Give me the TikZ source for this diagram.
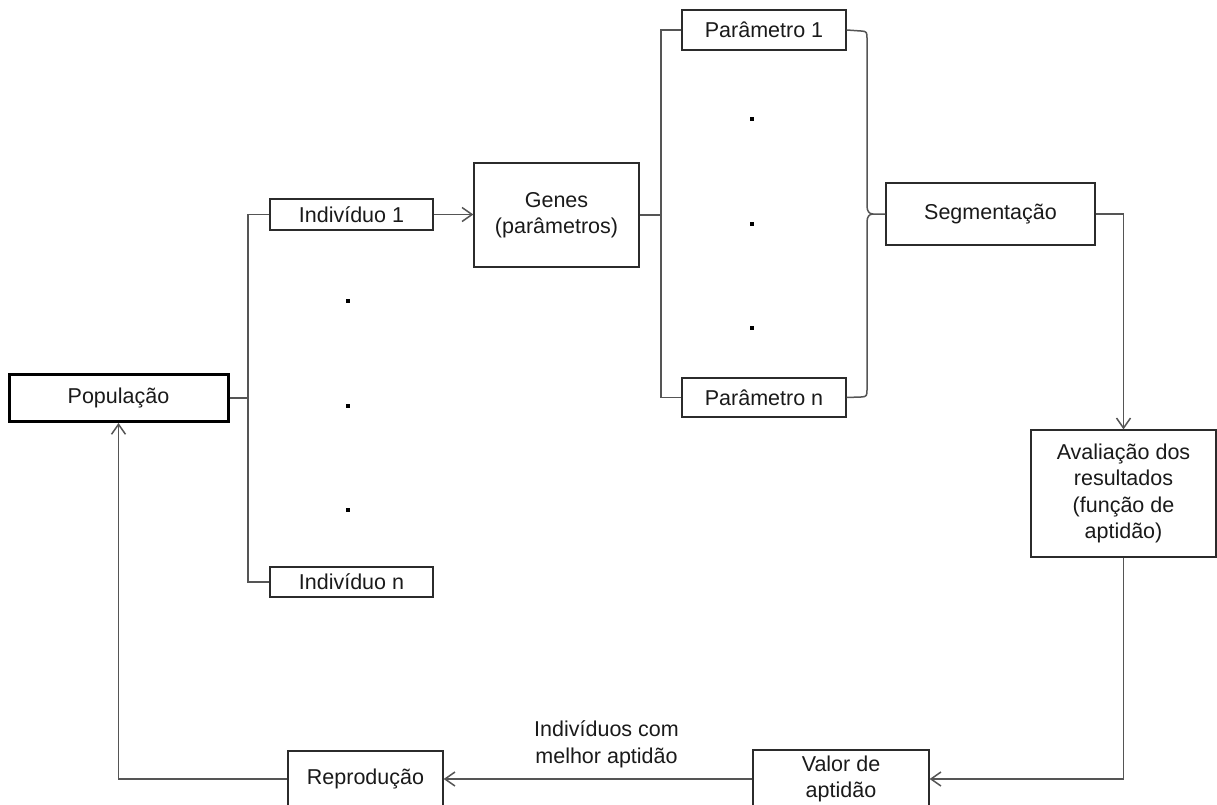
\documentclass[tikz,border=0pt]{standalone}
\usepackage{fontspec}
\setmainfont{Liberation Sans}
\usetikzlibrary{arrows.meta}
\definecolor{lineg}{HTML}{555555}
\definecolor{boxg}{HTML}{2B2B2B}
\definecolor{txt}{HTML}{1A1A1A}
\tikzset{
  box/.style={draw=boxg, line width=1.3pt, fill=white, text=txt, align=center, inner sep=0pt,
    font=\fontsize{21.5}{26.5}\selectfont},
  thickbox/.style={box, draw=black, line width=3pt},
  conn/.style={draw=lineg, line width=1.5pt},
  arr/.style={conn, -{Straight Barb[length=10pt,width=14pt,line width=1.5pt]}},
  dotmark/.style={fill=black, draw=none, minimum size=3.5pt, inner sep=0pt},
  lbl/.style={text=txt, align=center, inner sep=0pt, font=\fontsize{21.5}{26.5}\selectfont}
}
\begin{document}
\begin{tikzpicture}[x=1pt,y=-1pt]
\clip (0,0) rectangle (1217,805);
\fill[white] (0,0) rectangle (1217,805);

% nodes
\node[thickbox, minimum width=219pt, minimum height=47pt] (pop) at (118.5,398) {População};
\node[box, minimum width=163pt, minimum height=31pt] (ind1) at (351.5,214.5) {Indivíduo 1};
\node[box, minimum width=163pt, minimum height=30pt] (indn) at (351.5,582) {Indivíduo n};
\node[box, minimum width=165pt, minimum height=104pt] (genes) at (556.5,215) {Genes\\(parâmetros)};
\node[box, minimum width=164pt, minimum height=40pt] (par1) at (764,30) {Parâmetro 1};
\node[box, minimum width=164pt, minimum height=39pt] (parn) at (764,397.5) {Parâmetro n};
\node[box, minimum width=209pt, minimum height=62pt] (seg) at (990.5,214) {Segmentação};
\node[box, minimum width=185pt, minimum height=127pt] (aval) at (1123.5,493.5) {Avaliação dos\\resultados\\(função de\\aptidão)};
\node[box, minimum width=176pt, minimum height=58pt] (valor) at (841,779) {Valor de\\aptidão};
\node[box, minimum width=155pt, minimum height=56pt] (repro) at (365.5,779) {Reprodução};
\node[lbl] (lab) at (606.5,744.5) {Indivíduos com\\melhor aptidão};

% dots
\node[dotmark] (d1) at (348,301) {};
\node[dotmark] (d2) at (348,406) {};
\node[dotmark] (d3) at (348,510) {};
\node[dotmark] (d4) at (752,119) {};
\node[dotmark] (d5) at (752,224) {};
\node[dotmark] (d6) at (752,328) {};

% left bus
\coordinate (bt) at (248,214.5);
\coordinate (bb) at (248,582);
\draw[conn] (ind1.west) -- (bt) -- (bb) -- (indn.west);
\draw[conn] (pop.east) -- (pop.east -| bt);
\draw[arr] (ind1.east) -- (ind1.east -| genes.west);

% parameter bus
\coordinate (pt) at (661,30);
\coordinate (pb) at (661,397.5);
\draw[conn] (par1.west) -- (pt) -- (pb) -- (parn.west);
\draw[conn] (genes.east) -- (genes.east -| pt);

% brace
\coordinate (tip) at (873,214);
\draw[conn] (par1.east) -- (861,31) .. controls (867,31) and (867,33) .. (867,38)
  -- (867,206) .. controls (867,211) and (869,214) .. (tip) -- (seg.west);
\draw[conn] (tip) .. controls (869,214) and (867,217) .. (867,222)
  -- (867,390) .. controls (867,395) and (867,397) .. (861,397) -- (parn.east);

% right / bottom loop
\draw[arr] (seg.east) -| (aval.north);
\draw[arr] (aval.south) |- (valor.east);
\draw[arr] (valor.west) -- (repro.east);
\draw[arr] (repro.west) -| (pop.south);
\end{tikzpicture}
\end{document}
